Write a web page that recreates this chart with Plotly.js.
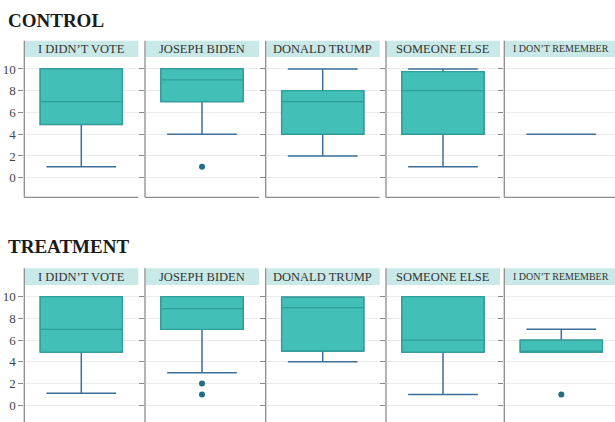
<!DOCTYPE html>
<html>
<head>
<meta charset="utf-8">
<script src="https://cdn.plot.ly/plotly-3.0.1.min.js"></script>
<style>
  html, body { margin: 0; padding: 0; background: #fff; }
  #chart { width: 615px; height: 422px; }
</style>
</head>
<body>
<div id="chart"></div>
<script>
// Vote categories (one facet column each)
const categories = ["I DIDN’T VOTE", "JOSEPH BIDEN", "DONALD TRUMP", "SOMEONE ELSE", "I DON’T REMEMBER"];
const groups = ["CONTROL", "TREATMENT"];

// Box statistics per group, in category order
const controlLower  = [1,   4,  2,   1,    4];
const controlQ1     = [4.9, 7,  4,   4,    4];
const controlMedian = [7,   9,  7,   8,    4];
const controlQ3     = [10,  10, 8,   9.75, 4];
const controlUpper  = [10,  10, 10,  10,   4];
const controlOutliers = [[], [1], [], [], []];

const treatLower  = [1.1, 3,   4,    1,   4.9];
const treatQ1     = [4.9, 7,   5,    4.9, 4.9];
const treatMedian = [7,   8.9, 9,    6,   4.9];
const treatQ3     = [10,  10,  9.95, 10,  6];
const treatUpper  = [10,  10,  9.95, 10,  7];
const treatOutliers = [[], [2, 1], [], [], [1]];

const stats = [
  {lower: controlLower, q1: controlQ1, med: controlMedian, q3: controlQ3, upper: controlUpper, out: controlOutliers},
  {lower: treatLower, q1: treatQ1, med: treatMedian, q3: treatQ3, upper: treatUpper, out: treatOutliers}
];

// Page geometry (pixels)
const W = 615, H = 422;
const panelLeft = [24.3, 145, 265.7, 386, 504.3];
const panelW = 114;
const rows = [
  {titleY: 20, headTop: 40.7, plotTop: 57, plotBottom: 197.3, range: [-1.8, 11.1], bottomLine: true},
  {titleY: 246, headTop: 268.3, plotTop: 285, plotBottom: 422, range: [-1.54, 11.08], bottomLine: false}
];

const px = x => x / W;
const py = y => 1 - y / H;

const FILL = "#42bfb7";
const EDGE = "#2f9f99";
const WHISK = "#3d6f98";
const DOT = "#1f6f80";
const SERIF = "Liberation Serif, Times New Roman, serif";
const BOXW = 0.72, CAPW = 0.85;

const traces = [];
const layout = {
  width: W, height: H,
  margin: {l: 0, r: 0, t: 0, b: 0},
  paper_bgcolor: "#fff", plot_bgcolor: "#fff",
  showlegend: false,
  boxmode: "overlay",
  shapes: [], annotations: []
};

let n = 0;
rows.forEach((row, r) => {
  const s = stats[r];
  layout.annotations.push({
    xref: "paper", yref: "paper", x: px(6), y: py(row.titleY),
    xanchor: "left", yanchor: "middle", showarrow: false,
    text: "<b>" + groups[r] + "</b>",
    font: {family: SERIF, size: 19, color: "#1a1a1a"}
  });
  categories.forEach((cat, c) => {
    n += 1;
    const xa = "xaxis" + (n === 1 ? "" : n), ya = "yaxis" + (n === 1 ? "" : n);
    const xr = "x" + (n === 1 ? "" : n), yr = "y" + (n === 1 ? "" : n);
    const left = panelLeft[c];
    const right = Math.min(left + panelW, W);
    const xmax = -0.5 + (right - left) / panelW;
    layout[xa] = {
      domain: [px(left), px(right)], range: [-0.5, xmax], anchor: yr,
      showticklabels: false, showgrid: false, zeroline: false, ticks: "", fixedrange: true
    };
    layout[ya] = {
      domain: [py(row.plotBottom), py(row.plotTop)], range: row.range, anchor: xr,
      dtick: 2, tick0: 0, ticks: "outside", ticklen: 5, tickcolor: "#8a8a8a", tickwidth: 1,
      showticklabels: c === 0, gridcolor: "#ebebeb", gridwidth: 1, zeroline: false,
      showline: false, fixedrange: true,
      tickfont: {family: SERIF, size: 13, color: "#444"}
    };
    const hasBody = s.q3[c] > s.q1[c];
    // whiskers (full box in whisker colour, covered by the box layer below)
    traces.push({
      type: "box", x: [0], xaxis: xr, yaxis: yr,
      lowerfence: [s.lower[c]], q1: [s.q1[c]], median: [s.med[c]], q3: [s.q3[c]], upperfence: [s.upper[c]],
      width: hasBody ? BOXW : BOXW * CAPW, whiskerwidth: CAPW, fillcolor: FILL,
      line: {color: WHISK, width: 1.5}, boxpoints: false, hoverinfo: "skip"
    });
    if (hasBody) {
      traces.push({
        type: "box", x: [0], xaxis: xr, yaxis: yr,
        lowerfence: [s.q1[c]], q1: [s.q1[c]], median: [s.med[c]], q3: [s.q3[c]], upperfence: [s.q3[c]],
        width: BOXW, whiskerwidth: 0, fillcolor: FILL,
        line: {color: EDGE, width: 1.3}, boxpoints: false, hoverinfo: "skip"
      });
    }
    if (s.out[c].length) {
      traces.push({
        type: "scatter", mode: "markers", xaxis: xr, yaxis: yr,
        x: s.out[c].map(() => 0), y: s.out[c],
        marker: {color: DOT, size: 6}, hoverinfo: "skip"
      });
    }
    // facet header strip
    layout.shapes.push({
      type: "rect", xref: "paper", yref: "paper", layer: "below",
      x0: px(left + 0.8), x1: px(right), y0: py(row.plotTop), y1: py(row.headTop),
      fillcolor: "#c8e9e7", line: {width: 0}
    });
    layout.annotations.push({
      xref: "paper", yref: "paper", x: px(left + panelW / 2), y: py((row.headTop + row.plotTop) / 2),
      xanchor: "center", yanchor: "middle", showarrow: false, text: cat,
      font: {family: SERIF, size: c === 4 ? 10 : 12.5, color: "#333"}
    });
    // panel frame: left rule and bottom rule
    layout.shapes.push({
      type: "line", xref: "paper", yref: "paper",
      x0: px(left), x1: px(left), y0: py(row.plotBottom), y1: py(row.headTop),
      line: {color: "#8c8c8c", width: 1.3}
    });
    if (row.bottomLine) {
      layout.shapes.push({
        type: "line", xref: "paper", yref: "paper",
        x0: px(left), x1: px(right), y0: py(row.plotBottom), y1: py(row.plotBottom),
        line: {color: "#8c8c8c", width: 1.3}
      });
    }
  });
});

Plotly.newPlot("chart", traces, layout, {displayModeBar: false, staticPlot: true});
</script>
</body>
</html>
